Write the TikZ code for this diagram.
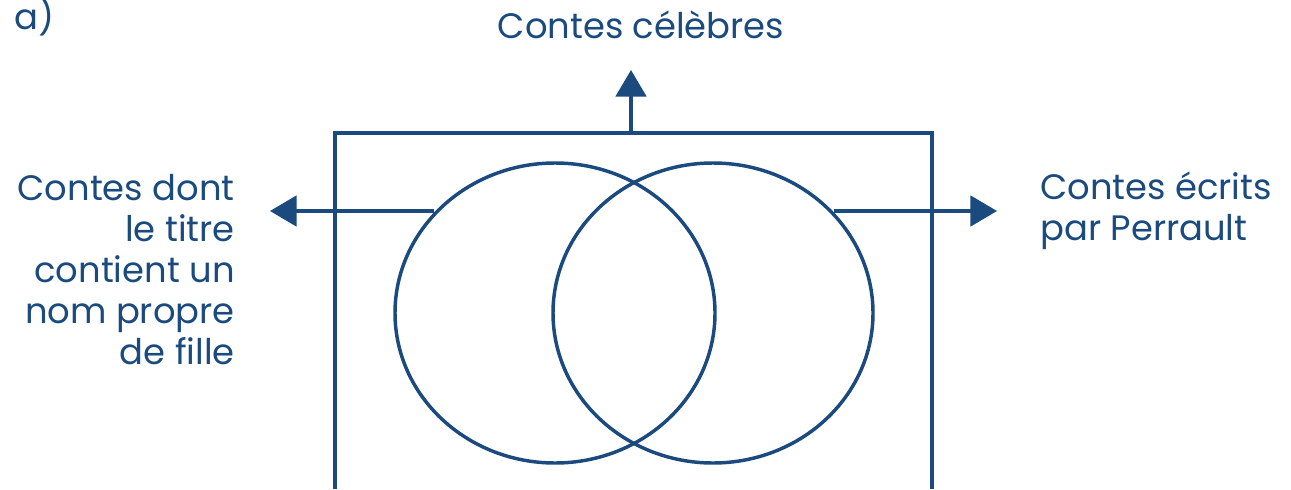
\documentclass[tikz,border=0pt]{standalone}
\usepackage{fontspec}
\setmainfont{Poppins}
\usetikzlibrary{arrows.meta,shapes.geometric}
\definecolor{vennBlue}{HTML}{1A4A7E}

\begin{document}
\begin{tikzpicture}[x=0.75pt,y=-0.75pt,
  line/.style={draw=vennBlue, line width=2.3pt},
  set/.style={ellipse, line, line width=2.6pt, minimum width=240pt, minimum height=225pt, inner sep=0pt},
  arr/.style={line, -{Triangle[length=20pt,width=23pt]}},
  lbl/.style={text=vennBlue, font=\fontsize{26.5}{30.75}\selectfont, inner sep=0pt}
]
\useasboundingbox (0,0) rectangle (1291,489);
\node[set] (lset) at (555,313) {};
\node[set] (rset) at (713,313) {};
\coordinate (frameBL) at (335,489);
\coordinate (frameTL) at (335,133);
\coordinate (frameTR) at (932,133);
\coordinate (frameBR) at (932,489);
\coordinate (frameTop) at (631,133);
\draw[line] (frameBL) -- (frameTL) -- (frameTR) -- (frameBR);
\coordinate (upTip) at (631,70);
\coordinate (leftTip) at (270,211);
\coordinate (rightTip) at (997,211);
\node[lbl,anchor=base] (famous) at (641,38) {Contes célèbres};
\node[lbl,anchor=base east,align=right] (girl) at (235,364)
  {Contes dont\\le titre\\contient un\\nom propre\\de fille};
\node[lbl,anchor=base west,align=left] (perrault) at (1040,240)
  {Contes écrits\\par Perrault};
\node[lbl,anchor=base west] (tag) at (14,29) {a)};
\draw[arr] (lset.140 |- leftTip) -- (leftTip);
\draw[arr] (rset.40 |- rightTip) -- (rightTip);
\draw[arr] (frameTop) -- (upTip);
\end{tikzpicture}
\end{document}
